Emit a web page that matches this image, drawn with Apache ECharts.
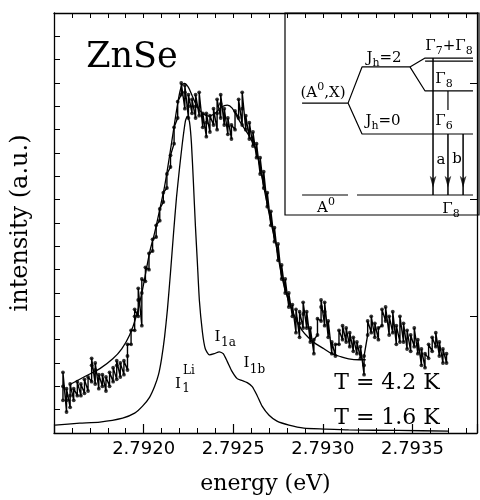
<!DOCTYPE html>
<html>
<head>
<meta charset="utf-8">
<script src="https://cdn.jsdelivr.net/npm/echarts@6/dist/echarts.min.js"></script>
<style>
  html, body { margin: 0; padding: 0; background: #fff; }
  #chart { width: 480px; height: 500px; }
</style>
</head>
<body>
<div id="chart"></div>
<script>
// 4.2 K spectrum, measured points: several readings at each energy (eV)
const dotEnergy = [
  2.79155, 2.79157, 2.79159, 2.79161, 2.79163, 2.79165, 2.79167, 2.79169, 2.79171, 2.79173,
  2.79175, 2.79177, 2.79179, 2.79181, 2.79183, 2.79185, 2.79187, 2.79189, 2.79191, 2.79193,
  2.79195, 2.79197, 2.79199, 2.79201, 2.79203, 2.79205, 2.79207, 2.79209, 2.79211, 2.79213,
  2.79215, 2.79217, 2.79219, 2.79221, 2.79223, 2.79225, 2.79227, 2.79229, 2.79231, 2.79233,
  2.79235, 2.79237, 2.79239, 2.79241, 2.79243, 2.79245, 2.79247, 2.79249, 2.79251, 2.79253,
  2.79255, 2.79257, 2.79259, 2.79261, 2.79263, 2.79265, 2.79267, 2.79269, 2.79271, 2.79273,
  2.79275, 2.79277, 2.79279, 2.79281, 2.79283, 2.79285, 2.79287, 2.79289, 2.79291, 2.79293,
  2.79295, 2.79297, 2.79299, 2.79301, 2.79303, 2.79305, 2.79307, 2.79309, 2.79311, 2.79313,
  2.79315, 2.79317, 2.79319, 2.79321, 2.79323, 2.79325, 2.79327, 2.79329, 2.79331, 2.79333,
  2.79335, 2.79337, 2.79339, 2.79341, 2.79343, 2.79345, 2.79347, 2.79349, 2.79351, 2.79353,
  2.79355, 2.79357, 2.79359, 2.79361, 2.79363, 2.79365, 2.79367, 2.79369
];
const dotIntensity = [
  [1.4, 2.0, 2.6], [0.9, 1.4, 1.9], [1.1, 1.6, 2.1], [1.4, 1.9], [1.6, 2.2], [1.6, 2.1], [1.7, 2.3], [1.8, 2.4], [2.2, 2.9, 3.2], [2.1, 2.7, 3.0],
  [1.9, 2.5], [2.0, 2.5], [1.8, 2.4], [2.0, 2.6], [2.2, 2.8], [2.3, 2.9, 3.1], [2.4, 3.0], [2.5, 3.1], [2.7, 3.3, 3.8], [3.8, 4.4],
  [4.4, 5.0, 5.3], [5.0, 5.7, 6.2], [4.6, 6.0, 6.6], [6.5, 7.1], [7.0, 7.7], [7.8, 8.3], [8.4, 8.9], [9.1, 9.6], [9.9, 10.3], [10.5, 11.1],
  [11.4, 11.9], [12.4, 13.1], [13.5, 14.2], [14.5, 15.0], [13.9, 14.6, 14.9], [13.5, 14.0, 14.5], [13.7, 14.3], [13.5, 14.0, 14.5], [13.6, 14.6], [13.1, 13.7],
  [12.7, 13.3, 13.7], [12.9, 13.6], [13.2, 13.9], [13.0, 13.7, 14.3], [13.5, 14.1, 14.5], [13.2, 13.9], [12.8, 13.5], [12.6, 13.2], [13.0, 13.8], [13.5, 14.3],
  [13.2, 13.9, 14.6], [13.0, 13.6], [12.6, 13.3], [12.3, 12.9], [11.8, 12.4], [11.1, 11.8], [10.5, 11.2], [9.7, 10.3], [8.9, 9.5], [8.2, 8.8],
  [7.4, 8.1], [6.6, 7.2], [6.0, 6.6], [5.4, 6.0], [5.0, 5.5], [4.3, 4.9, 5.3], [4.1, 4.7, 5.2], [4.5, 5.1, 5.6], [4.5, 5.2], [3.9, 4.5],
  [3.4, 4.0], [4.2, 4.9], [4.8, 5.4, 5.7], [4.6, 5.2, 5.6], [4.1, 4.8], [3.4, 3.9], [3.3, 3.8], [3.8, 4.4], [4.0, 4.6], [3.9, 4.5],
  [3.7, 4.3], [3.5, 4.1], [3.4, 3.9], [3.2, 3.7], [2.5, 2.9, 3.3], [4.2, 4.8], [4.3, 5.0], [4.1, 4.7], [4.0, 4.5], [4.6, 5.3],
  [4.8, 5.4], [4.2, 5.0], [4.3, 5.2], [3.8, 4.6], [3.9, 5.0], [3.9, 4.7], [3.6, 4.4], [3.5, 4.2], [3.7, 4.5], [3.4, 4.0],
  [2.9, 3.6], [2.8, 3.4], [3.2, 3.8], [3.5, 4.1], [3.7, 4.3], [3.3, 3.9], [3.0, 3.6], [3.0, 3.4]
];

// 4.2 K fitted line
const fitEnergy = [
  2.791589, 2.791672, 2.791756, 2.791828, 2.791878, 2.791922, 2.791961, 2.791994, 2.792033, 2.792061,
  2.792089, 2.792117, 2.792144, 2.792172, 2.792194, 2.792211, 2.792228, 2.79225, 2.792272, 2.7923,
  2.792333, 2.792367, 2.7924, 2.792433, 2.792467, 2.792494, 2.792522, 2.792556, 2.792589, 2.792628,
  2.792656, 2.792683, 2.792711, 2.792739, 2.792772, 2.792811, 2.79285, 2.792883, 2.792922, 2.792961,
  2.793006, 2.79305, 2.7931, 2.793144, 2.7932, 2.793239
];
const fitIntensity = [
  2.08, 2.42, 2.76, 3.18, 3.61, 4.20, 5.05, 6.15, 7.72, 8.57,
  9.55, 10.57, 11.84, 13.24, 14.30, 14.86, 14.98, 14.81, 14.43, 13.96,
  13.67, 13.58, 13.71, 13.96, 14.05, 13.92, 13.54, 13.12, 12.73, 12.10,
  11.12, 10.06, 9.00, 8.06, 6.66, 5.60, 4.88, 4.41, 4.07, 3.82,
  3.61, 3.40, 3.27, 3.18, 3.14, 3.14
];

// 1.6 K spectrum (I1Li, I1a, I1b)
const coldEnergy = [
  2.791506, 2.791644, 2.791756, 2.791883, 2.79195, 2.791994, 2.792033, 2.792061, 2.792083, 2.7921,
  2.792117, 2.792133, 2.79215, 2.792167, 2.792183, 2.7922, 2.792217, 2.792233, 2.792244, 2.792256,
  2.792267, 2.792278, 2.792289, 2.7923, 2.792311, 2.792328, 2.792344, 2.792367, 2.792394, 2.792422,
  2.792444, 2.792467, 2.792494, 2.792522, 2.79255, 2.792578, 2.792606, 2.792633, 2.792661, 2.7927,
  2.792744, 2.792811, 2.792894, 2.793006, 2.793144, 2.793422, 2.7937
];
const coldIntensity = [
  0.34, 0.42, 0.47, 0.64, 0.85, 1.15, 1.53, 1.99, 2.50, 3.18,
  4.12, 5.31, 6.88, 8.57, 10.06, 11.33, 12.48, 13.37, 13.58, 13.33,
  12.39, 10.70, 8.87, 7.30, 5.69, 4.33, 3.61, 3.35, 3.40, 3.48,
  3.40, 3.06, 2.63, 2.33, 2.25, 2.16, 1.99, 1.61, 1.15, 0.76,
  0.51, 0.34, 0.21, 0.17, 0.13, 0.11, 0.08
];

const energyTicks = [2.7920, 2.7925, 2.7930, 2.7935];

// inset level scheme, inset units 0-100 (y downward); '-' breaks the path
const levelPath = [
  [8.8, 44.6], [32.5, 44.6], [39.7, 26.7], [64.4, 26.7], [72.2, 22.3], [96.9, 22.3], ['-', '-'],
  [72.2, 23.8], [96.9, 23.8], ['-', '-'],
  [64.4, 26.7], [72.2, 38.6], [96.9, 38.6], ['-', '-'],
  [32.5, 44.6], [39.7, 59.9], [96.9, 59.9], ['-', '-'],
  [84.0, 38.6], [84.0, 48.0], ['-', '-'],
  [8.8, 90.1], [32.5, 90.1], ['-', '-'],
  [37.1, 90.1], [96.9, 90.1]
];
const transitionPath = [
  [76.3, 22.3], [76.3, 90.1], ['-', '-'],
  [84.0, 59.9], [84.0, 90.1], ['-', '-'],
  [91.8, 59.9], [91.8, 90.1]
];
const arrowHeads = [[76.3, 86.5], [84.0, 86.5], [91.8, 86.5]];

const dots = [];
dotEnergy.forEach((e, i) => {
  dotIntensity[i].forEach(v => dots.push([e, v]));
});
const fitLine = fitEnergy.map((e, i) => [e, fitIntensity[i]]);
const coldLine = coldEnergy.map((e, i) => [e, coldIntensity[i]]);

const serif = '"DejaVu Serif"';
const black = '#000';
const insetRich = {
  t: { fontFamily: serif, fontSize: 15, lineHeight: 22, color: black },
  p: { fontFamily: serif, fontSize: 11, lineHeight: 12, verticalAlign: 'top', color: black },
  b: { fontFamily: serif, fontSize: 11, lineHeight: 12, verticalAlign: 'bottom', color: black }
};

function txt(x, y, text, size) {
  return {
    type: 'text', x, y, z: 100,
    style: { text, font: size + 'px ' + serif, fill: black, align: 'center', verticalAlign: 'middle' }
  };
}
function rich(x, y, text) {
  return {
    type: 'text', x, y, z: 100,
    style: { text, rich: insetRich, fill: black, align: 'center', verticalAlign: 'middle' }
  };
}

const chart = echarts.init(document.getElementById('chart'));
const range = { min: 2.7915, max: 2.79386 };

chart.setOption({
  animation: false,
  backgroundColor: '#fff',
  grid: [
    { left: 54, top: 13, right: 1, bottom: 63 },
    { left: 285, top: 13, width: 194, height: 202, show: true,
      backgroundColor: '#fff', borderColor: black, borderWidth: 1.2 }
  ],
  xAxis: [
    {
      gridIndex: 0, type: 'value', ...range, interval: 0.0005, position: 'bottom',
      axisLine: { lineStyle: { color: black, width: 1.3 } },
      axisTick: { inside: true, length: 9, lineStyle: { color: black, width: 1.2 } },
      axisLabel: {
        color: black, fontFamily: 'DejaVu Sans', fontSize: 18, margin: 7,
        formatter: v => energyTicks.some(t => Math.abs(t - v) < 1e-7) ? v.toFixed(4) : ''
      },
      splitLine: { show: false },
      name: 'energy (eV)', nameLocation: 'middle', nameGap: 40,
      nameTextStyle: { fontFamily: serif, fontSize: 22, color: black }
    },
    {
      gridIndex: 0, type: 'value', ...range, interval: 0.0001, position: 'bottom',
      axisLine: { show: false },
      axisTick: { inside: true, length: 5, lineStyle: { color: black, width: 1 } },
      axisLabel: { show: false }, splitLine: { show: false }
    },
    {
      gridIndex: 0, type: 'value', ...range, interval: 0.0001, position: 'top',
      axisLine: { lineStyle: { color: black, width: 1.3 } },
      axisTick: { inside: true, length: 5, lineStyle: { color: black, width: 1 } },
      axisLabel: { show: false }, splitLine: { show: false }
    },
    { gridIndex: 1, type: 'value', min: 0, max: 100, show: false }
  ],
  yAxis: [
    {
      gridIndex: 0, type: 'value', min: 0, max: 18, interval: 1, position: 'left',
      axisLine: { show: true, lineStyle: { color: black, width: 1.3 } },
      axisTick: { show: true, inside: true, length: 6, lineStyle: { color: black, width: 1 } },
      axisLabel: { show: false }, splitLine: { show: false },
      name: 'intensity (a.u.)', nameLocation: 'middle', nameGap: 21,
      nameTextStyle: { fontFamily: serif, fontSize: 24, color: black }
    },
    {
      gridIndex: 0, type: 'value', min: 0, max: 18, interval: 5, position: 'right',
      axisLine: { show: true, lineStyle: { color: black, width: 1.3 } },
      axisTick: { show: true, inside: true, length: 7, lineStyle: { color: black, width: 1 } },
      axisLabel: { show: false }, splitLine: { show: false }
    },
    { gridIndex: 1, type: 'value', min: 0, max: 100, inverse: true, show: false }
  ],
  series: [
    {
      // measured 4.2 K trace: readings joined in recording order
      type: 'line', xAxisIndex: 0, yAxisIndex: 0, data: dots,
      showSymbol: false, lineStyle: { color: black, width: 1.4 }, silent: true
    },
    {
      type: 'scatter', xAxisIndex: 0, yAxisIndex: 0, data: dots,
      symbolSize: 3.8, itemStyle: { color: black }, silent: true
    },
    {
      type: 'line', xAxisIndex: 0, yAxisIndex: 0, data: fitLine, smooth: 0.3,
      showSymbol: false, lineStyle: { color: black, width: 1.3 }, silent: true
    },
    {
      type: 'line', xAxisIndex: 0, yAxisIndex: 0, data: coldLine, smooth: 0.2,
      showSymbol: false, lineStyle: { color: black, width: 1.3 }, silent: true
    },
    {
      type: 'line', xAxisIndex: 3, yAxisIndex: 2, data: levelPath,
      showSymbol: false, connectNulls: false, lineStyle: { color: black, width: 1.2 }, silent: true
    },
    {
      type: 'line', xAxisIndex: 3, yAxisIndex: 2, data: transitionPath,
      showSymbol: false, connectNulls: false, lineStyle: { color: black, width: 1.5 }, silent: true
    },
    {
      type: 'scatter', xAxisIndex: 3, yAxisIndex: 2, data: arrowHeads,
      symbol: 'arrow', symbolSize: [5, 12], symbolRotate: 180,
      itemStyle: { color: black }, silent: true
    }
  ],
  graphic: [
    txt(132, 58, 'ZnSe', 35),
    txt(387, 383, 'T = 4.2 K', 22),
    txt(387, 418, 'T = 1.6 K', 22),
    txt(217.5, 337, 'I', 15), txt(228.5, 343, '1a', 12),
    txt(246.5, 363, 'I', 15), txt(257.5, 370, '1b', 12),
    txt(178, 384, 'I', 15), txt(189, 371, 'Li', 12), txt(186, 389, '1', 12),
    rich(323, 93, '{t|(A}{p|0}{t|,X)}'),
    rich(384, 58, '{t|J}{b|h}{t|=2}'),
    rich(383, 121, '{t|J}{b|h}{t|=0}'),
    rich(449, 46, '{t|Γ}{b|7}{t|+Γ}{b|8}'),
    rich(444, 79, '{t|Γ}{b|8}'),
    rich(444, 121, '{t|Γ}{b|6}'),
    rich(441, 160, '{t|a}'),
    rich(457, 159, '{t|b}'),
    rich(326, 208, '{t|A}{p|0}'),
    rich(451, 209, '{t|Γ}{b|8}')
  ]
});
</script>
</body>
</html>
